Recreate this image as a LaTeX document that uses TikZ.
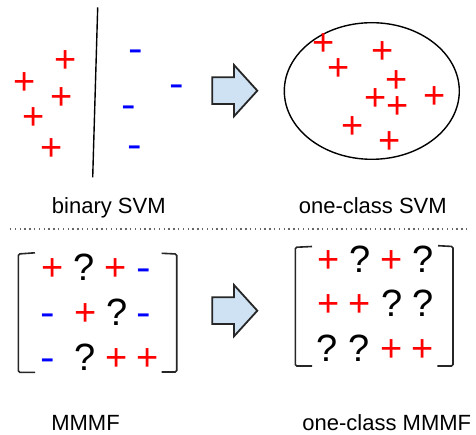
\documentclass[tikz,border=0pt]{standalone}
\usepackage{fontspec}
\setmainfont{Liberation Sans}
\usepackage{graphicx}
\definecolor{posred}{HTML}{FF0000}
\definecolor{negblue}{HTML}{0000FF}
\definecolor{arrowfill}{HTML}{CFE2F3}
% a slightly widened hyphen used as the negative label
\newcommand\negsign{\scalebox{1.15}[1]{-}}
\begin{document}
\begin{tikzpicture}[x=1pt,y=-1pt,
  sym/.style={anchor=base, inner sep=0pt, font=\fontsize{38}{38}\selectfont},
  possym/.style={sym, text=posred},
  negsym/.style={sym, text=negblue},
  unksym/.style={sym, text=black},
  caption/.style={anchor=base, inner sep=0pt, font=\fontsize{22}{26}\selectfont},
  bracket/.style={draw=black!85, line width=1.6pt, rounded corners=1.5pt},
  bigarrow/.style={draw=black!85, line width=1.8pt, fill=arrowfill, line join=miter},
  separator/.style={draw=black!60, line width=1.3pt, dash pattern=on 1.3pt off 3.5pt}]
\useasboundingbox (0,0) rectangle (476,435);

% ---------- binary SVM ----------
\coordinate (hTop) at (97.7,7.3);
\coordinate (hBot) at (92.7,177.3);
\draw[line width=1.4pt] (hTop) -- (hBot);
\node[possym] (bp1) at (65.7,72.8) {+};
\node[possym] (bp2) at (24.5,94.2) {+};
\node[possym] (bp3) at (61.7,109.5) {+};
\node[possym] (bp4) at (33.7,129.5) {+};
\node[possym] (bp5) at (51.7,160.8) {+};
\node[negsym] (bn1) at (135.3,61.7) {\negsign};
\node[negsym] (bn2) at (176.7,97) {\negsign};
\node[negsym] (bn3) at (128.3,117.3) {\negsign};
\node[negsym] (bn4) at (135,157.7) {\negsign};
\node[caption] (capBin) at (108.8,213.3) {binary SVM};

% ---------- one-class SVM ----------
\draw[line width=1.4pt] (371.8,91) ellipse [x radius=87.5pt, y radius=68.3pt];
\node[possym] (op1) at (323.3,55.8) {+};
\node[possym] (op2) at (382.7,63.1) {+};
\node[possym] (op3) at (338.3,80.8) {+};
\node[possym] (op4) at (397,92.5) {+};
\node[possym] (op5) at (434.7,108.1) {+};
\node[possym] (op6) at (375.7,110.5) {+};
\node[possym] (op7) at (397.3,118.1) {+};
\node[possym] (op8) at (352.7,138.5) {+};
\node[possym] (op9) at (390,153.5) {+};
\node[caption] (capOne) at (372.8,213.3) {one-class SVM};

% ---------- block arrows ----------
\foreach \dy in {0,220}{
  \draw[bigarrow, shift={(0,\dy)}]
    (212.3,77.3) -- (234,77.3) -- (234,65) -- (257.3,90.7)
    -- (234,116.3) -- (234,104) -- (212.3,104) -- cycle;
}

% ---------- separator ----------
\coordinate (sepL) at (10,229);
\coordinate (sepR) at (469,229);
\draw[separator] (sepL) -- (sepR);

% ---------- MMMF matrix ----------
\draw[bracket] (35,252.8) -- (18.3,254) -- (18.3,372.3) -- (35,372.3);
\draw[bracket] (161.7,253.3) -- (176.7,254) -- (176.7,372) -- (161.7,372);
\node[possym] (m11) at (52.3,280.3) {+};
\node[unksym] (m12) at (84,280.3) {?};
\node[possym] (m13) at (115.7,280.3) {+};
\node[negsym] (m14) at (143.3,280.3) {\negsign};
\node[negsym] (m21) at (47.7,325) {\negsign};
\node[possym] (m22) at (85.7,325) {+};
\node[unksym] (m23) at (116.7,325) {?};
\node[negsym] (m24) at (143.3,325) {\negsign};
\node[negsym] (m31) at (47.7,370) {\negsign};
\node[unksym] (m32) at (85,370) {?};
\node[possym] (m33) at (116.7,370) {+};
\node[possym] (m34) at (147.7,370) {+};
\node[caption] (capM) at (85.5,430.7) {MMMF};

% ---------- one-class MMMF matrix ----------
\draw[bracket] (312,246.5) -- (295.3,247.3) -- (295.3,366) -- (312,366);
\draw[bracket] (438,245.7) -- (453,246.5) -- (453,366) -- (437.3,366);
\node[possym] (o11) at (328.7,272.7) {+};
\node[unksym] (o12) at (359.7,272.7) {?};
\node[possym] (o13) at (391.3,272.7) {+};
\node[unksym] (o14) at (423,272.7) {?};
\node[possym] (o21) at (328.7,316.7) {+};
\node[possym] (o22) at (359.7,316.7) {+};
\node[unksym] (o23) at (392.3,316.7) {?};
\node[unksym] (o24) at (423,316.7) {?};
\node[unksym] (o31) at (327.3,361.7) {?};
\node[unksym] (o32) at (359,361.7) {?};
\node[possym] (o33) at (391.3,361.7) {+};
\node[possym] (o34) at (423,361.7) {+};
\node[caption] (capOM) at (386.8,430.7) {one-class MMMF};
\end{tikzpicture}
\end{document}
